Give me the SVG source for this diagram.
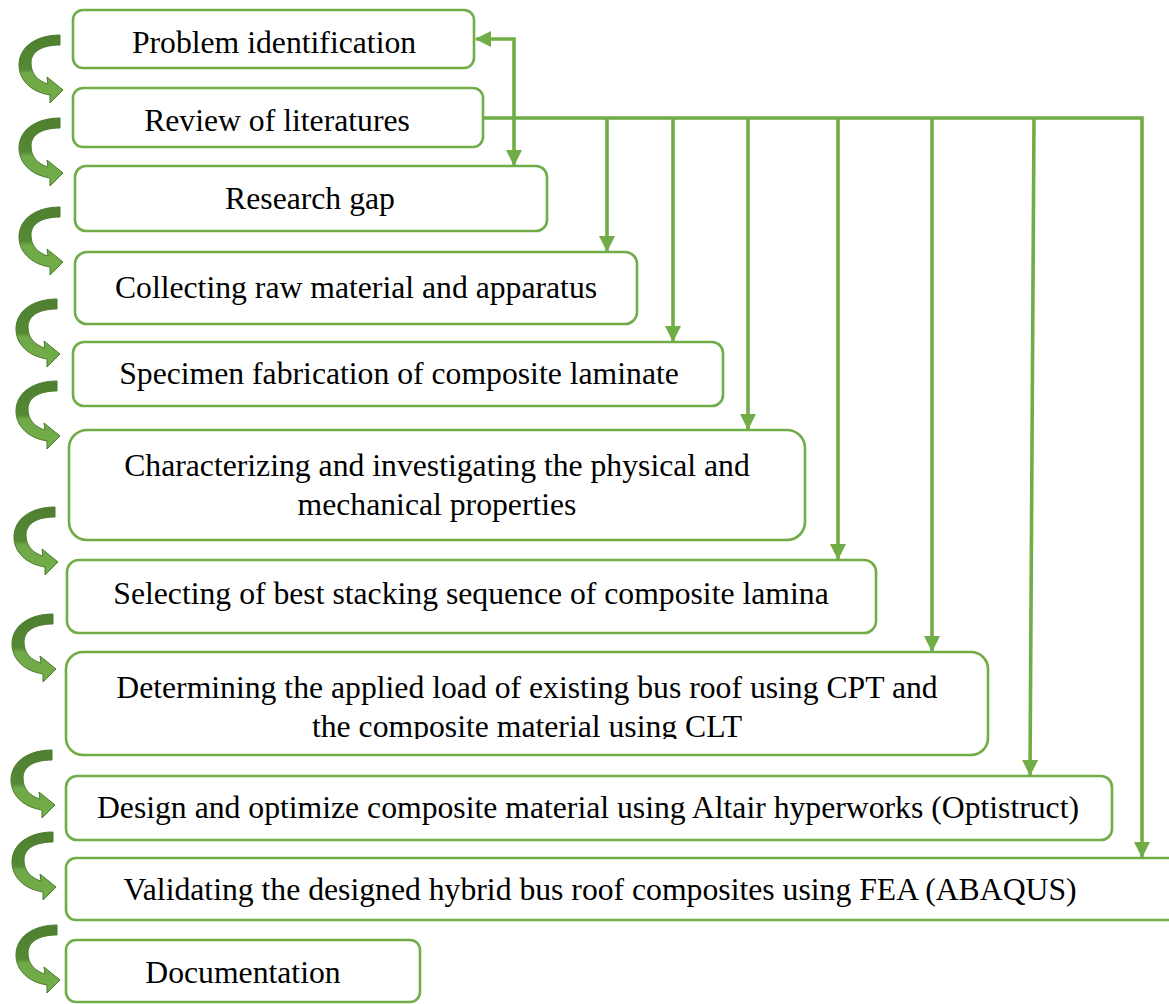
<svg xmlns="http://www.w3.org/2000/svg" width="1169" height="1004" viewBox="0 0 1169 1004">
<style>
.box{fill:#fff;stroke:#70AD47;stroke-width:2.6}
.t{font-family:"Liberation Serif","Times New Roman",serif;font-size:31.7px;fill:#000;text-anchor:middle}
.con{fill:none;stroke:#70AD47;stroke-width:3.6}
.ca{fill:url(#cg);stroke:#4B7A2D;stroke-width:1}
</style>
<defs>
<marker id="ah" viewBox="0 0 16 16" refX="15" refY="8" markerWidth="16" markerHeight="16" markerUnits="userSpaceOnUse" orient="auto-start-reverse">
<path d="M0,0 L16,8 L0,16 Z" fill="#70AD47"/>
</marker>
<linearGradient id="cg" x1="0" y1="0" x2="0" y2="1">
<stop offset="0" stop-color="#4F7F30"/>
<stop offset="0.5" stop-color="#548A34"/>
<stop offset="0.56" stop-color="#6FA948"/>
<stop offset="1" stop-color="#72AE48"/>
</linearGradient>
<path id="carrow" d="M0,0 L0,10 C-17,10 -29,16 -29,28 C-29,39 -22,46 -12,49 L-13,42 L3,55 L-10,68 L-10,60 C-29,57 -41,45 -41,30 C-41,12 -24,0 0,0 Z"/>
<clipPath id="clip8"><rect x="60" y="650" width="1000" height="89"/></clipPath>
</defs>

<g id="curved-arrows">
<use href="#carrow" class="ca" x="60" y="35"/>
<use href="#carrow" class="ca" x="60" y="118"/>
<use href="#carrow" class="ca" x="60" y="207"/>
<use href="#carrow" class="ca" x="57" y="299"/>
<use href="#carrow" class="ca" x="57" y="381"/>
<use href="#carrow" class="ca" x="55" y="507"/>
<use href="#carrow" class="ca" x="53" y="614"/>
<use href="#carrow" class="ca" x="52" y="750"/>
<use href="#carrow" class="ca" x="53" y="832"/>
<use href="#carrow" class="ca" x="57" y="925"/>
</g>

<g id="connectors">
<path class="con" d="M476,39 L514,39 L514,165" marker-start="url(#ah)" marker-end="url(#ah)"/>
<path class="con" d="M483,118 L1142,118 L1142,857" marker-end="url(#ah)"/>
<path class="con" d="M607,118 L607,251" marker-end="url(#ah)"/>
<path class="con" d="M673,118 L673,341" marker-end="url(#ah)"/>
<path class="con" d="M748,118 L748,429" marker-end="url(#ah)"/>
<path class="con" d="M838,118 L838,559" marker-end="url(#ah)"/>
<path class="con" d="M932,118 L932,651" marker-end="url(#ah)"/>
<path class="con" d="M1034,118 L1030,775" marker-end="url(#ah)"/>
</g>

<g id="n1"><rect class="box" x="73" y="10" width="401" height="58" rx="10"/><text class="t" x="274" y="53">Problem identification</text></g>
<g id="n2"><rect class="box" x="73" y="88" width="410" height="59" rx="10"/><text class="t" x="277" y="131">Review of literatures</text></g>
<g id="n3"><rect class="box" x="75" y="166" width="472" height="65" rx="11"/><text class="t" x="310" y="209">Research gap</text></g>
<g id="n4"><rect class="box" x="75" y="252" width="562" height="72" rx="12"/><text class="t" x="356" y="298">Collecting raw material and apparatus</text></g>
<g id="n5"><rect class="box" x="73" y="342" width="650" height="64" rx="11"/><text class="t" x="399" y="384">Specimen fabrication of composite laminate</text></g>
<g id="n6"><rect class="box" x="69" y="430" width="736" height="110" rx="18"/><text class="t" x="437" y="476">Characterizing and investigating the physical and</text><text class="t" x="437" y="515">mechanical properties</text></g>
<g id="n7"><rect class="box" x="67" y="560" width="809" height="73" rx="12"/><text class="t" x="471" y="604">Selecting of best stacking sequence of composite lamina</text></g>
<g id="n8"><rect class="box" x="66" y="652" width="922" height="103" rx="17"/><text class="t" x="527" y="698">Determining the applied load of existing bus roof using CPT and</text><text class="t" x="527" y="737" clip-path="url(#clip8)">the composite material using CLT</text></g>
<g id="n9"><rect class="box" x="66" y="776" width="1046" height="64" rx="11"/><text class="t" x="588" y="818">Design and optimize composite material using Altair hyperworks (Optistruct)</text></g>
<g id="n10"><rect class="box" x="66" y="858" width="1120" height="62" rx="10"/><text class="t" x="600" y="900">Validating the designed hybrid bus roof composites using FEA (ABAQUS)</text></g>
<g id="n11"><rect class="box" x="66" y="940" width="354" height="62" rx="10"/><text class="t" x="243" y="983">Documentation</text></g>
</svg>
